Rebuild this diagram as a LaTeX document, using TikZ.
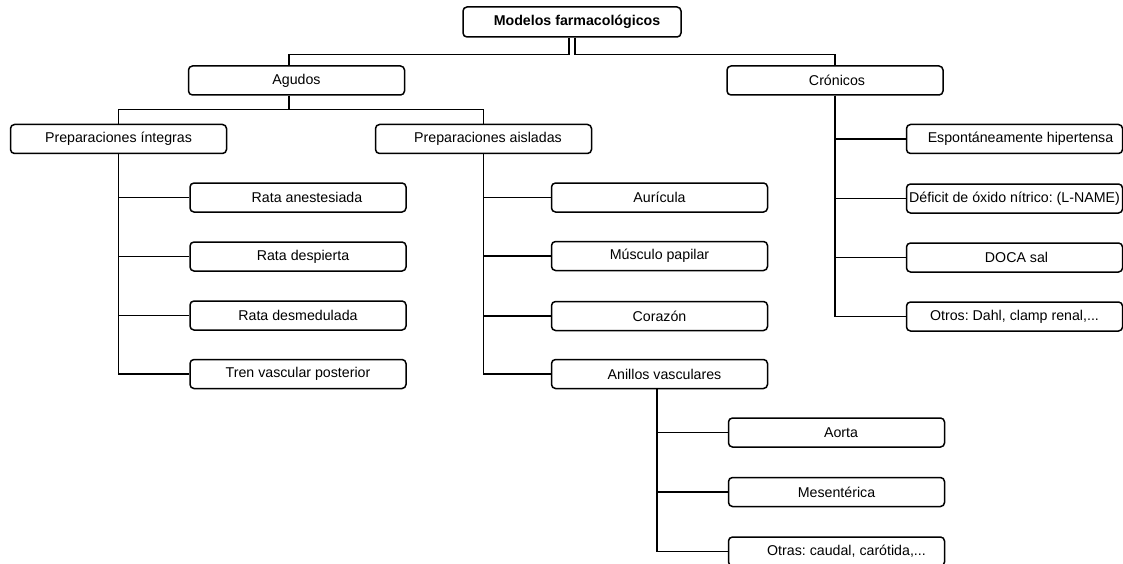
\documentclass[tikz,border=0pt]{standalone}
\usepackage{fontspec}
\setmainfont{Liberation Sans}
\frenchspacing
\begin{document}
\begin{tikzpicture}[x=1pt, y=-1pt, line width=1.5pt,
  caja/.style={draw, rounded corners=4pt, minimum width=216pt, minimum height=29pt, inner sep=0pt, font=\fontsize{14.2}{16}\selectfont}]
\useasboundingbox (0,0) rectangle (1123,564);
\node[caja, minimum width=218pt, minimum height=30pt, font=\fontsize{14.2}{16}\selectfont\bfseries] (mod) at (572,22){\hspace*{10pt}Modelos farmacológicos};
\node[caja] (agu) at (296.5,80.5){Agudos};
\node[caja] (cro) at (835,80.5){\hspace*{4pt}Crónicos};
\draw[]([xshift=-3pt]mod.south) -- ++(0,17) -| ([xshift=-7.5pt]agu.north);
\draw[]([xshift=3pt]mod.south) -- ++(0,17) -| (cro.north);

\node[caja] (pin) at (118.5,139){Preparaciones íntegras};
\node[caja] (pai) at (483.5,139){\hspace*{9pt}Preparaciones aisladas};
\draw[]([xshift=-7.5pt]agu.south) -- ++(0,14) -| (pin.north);
\draw[]([xshift=-7.5pt]agu.south) -- ++(0,14) -| (pai.north);

\node[caja] (rat1) at (298,197.5){\hspace*{18pt}Rata anestesiada};
\node[caja] (rat2) at (298,256.5){\hspace*{10pt}Rata despierta};
\node[caja] (rat3) at (298,315.5){Rata desmedulada};
\node[caja] (rat4) at (298,374){Tren vascular posterior};
\draw[](pin.south) |- (rat1.west);
\draw[](pin.south) |- (rat2.west);
\draw[](pin.south) |- (rat3.west);
\draw[](pin.south) |- (rat4.west);

\node[caja] (ais1) at (659.5,197.5){Aurícula};
\node[caja] (ais2) at (659.5,256){Músculo papilar};
\node[caja] (ais3) at (659.5,316){Corazón};
\node[caja] (ais4) at (659.5,374){\hspace*{10pt}Anillos vasculares};
\draw[](pai.south) |- (ais1.west);
\draw[](pai.south) |- (ais2.west);
\draw[](pai.south) |- (ais3.west);
\draw[](pai.south) |- (ais4.west);

\node[caja] (ani1) at (836.5,432.5){\hspace*{9pt}Aorta};
\node[caja] (ani2) at (836.5,492){Mesentérica};
\node[caja] (ani3) at (836.5,551.5){\hspace*{20pt}Otras: caudal, carótida,...};
\draw[]([xshift=-2.5pt]ais4.south) |- (ani1.west);
\draw[]([xshift=-2.5pt]ais4.south) |- (ani2.west);
\draw[]([xshift=-2.5pt]ais4.south) |- (ani3.west);

\node[caja] (cro1) at (1014.5,139){\hspace*{12pt}Espontáneamente hipertensa};
\node[caja] (cro2) at (1014.5,198.5){Déficit de óxido nítrico: (L-NAME)};
\node[caja] (cro3) at (1014.5,257.5){\hspace*{4pt}DOCA sal};
\node[caja] (cro4) at (1014.5,316.5){Otros: Dahl, clamp renal,...};
\draw[](cro.south) |- (cro1.west);
\draw[](cro.south) |- (cro2.west);
\draw[](cro.south) |- (cro3.west);
\draw[](cro.south) |- (cro4.west);

\end{tikzpicture}
\end{document}
